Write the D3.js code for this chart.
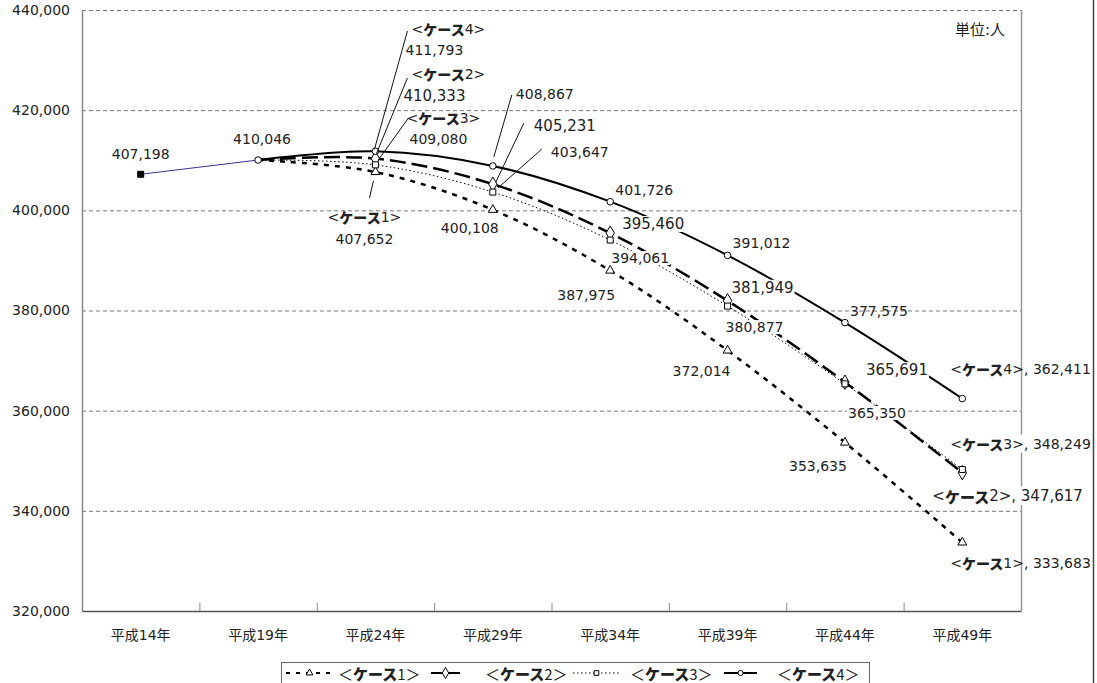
<!DOCTYPE html>
<html>
<head>
<meta charset="utf-8">
<script src="https://cdn.jsdelivr.net/npm/d3@7"></script>
<style>
  body { margin: 0; background: #fff; }
  svg { display: block; font-family: "DejaVu Sans", "Noto Sans CJK JP", sans-serif; }
  .kase { font-family: "Noto Sans CJK JP", sans-serif; font-weight: 900; }
</style>
</head>
<body>
<div id="chart"></div>
<script>
// categories and values
var years = ["平成14年", "平成19年", "平成24年", "平成29年", "平成34年", "平成39年", "平成44年", "平成49年"];
var actual = [407198, 410046, null, null, null, null, null, null];
var case1 = [null, 410046, 407652, 400108, 387975, 372014, 353635, 333683];
var case2 = [null, 410046, 410333, 405231, 395460, 381949, 365691, 347617];
var case3 = [null, 410046, 409080, 403647, 394061, 380877, 365350, 348249];
var case4 = [null, 410046, 411793, 408867, 401726, 391012, 377575, 362411];
var yTicks = [320000, 340000, 360000, 380000, 400000, 420000, 440000];
var caseNames = ["1", "2", "3", "4"];

var svgWidth = 1097, svgHeight = 683;
var margin = {top: 10, left: 82, right: 76, bottom: 72};
var width = svgWidth - margin.left - margin.right;
var height = svgHeight - margin.top - margin.bottom;

var svg = d3.select("#chart").append("svg")
    .attr("width", svgWidth)
    .attr("height", svgHeight);

// outer frame line on the right
svg.append("line")
    .attr("x1", 1093.5).attr("x2", 1093.5)
    .attr("y1", 0).attr("y2", svgHeight)
    .attr("stroke", "#444").attr("stroke-width", 1.5);

var g = svg.append("g").attr("transform", `translate(${margin.left}, ${margin.top})`);

var xScale = d3.scaleBand().domain(years).range([0, width]);
var yScale = d3.scaleLinear().domain([320000, 440000]).range([height, 0]);
var cx = d => xScale(d) + xScale.bandwidth() / 2;

// grid lines
g.append("g").selectAll("line")
    .data(yTicks.slice(1))
    .enter().append("line")
    .attr("x1", 0).attr("x2", width)
    .attr("y1", d => yScale(d) + 0.5).attr("y2", d => yScale(d) + 0.5)
    .attr("stroke", "#777").attr("stroke-dasharray", "4,3");

// right border of plot area
g.append("line")
    .attr("x1", width + 0.5).attr("x2", width + 0.5)
    .attr("y1", 0).attr("y2", height)
    .attr("stroke", "#999").attr("stroke-width", 1.5);

// y axis
var leftAxis = d3.axisLeft(yScale).tickValues(yTicks).tickFormat(d3.format(",")).tickSize(0).tickPadding(12);
var yAxis = g.append("g").call(leftAxis);
yAxis.select(".domain").attr("stroke", "#888").attr("stroke-width", 1.5);
yAxis.selectAll("text").attr("font-size", 14).attr("fill", "#222").attr("font-family", "DejaVu Sans");

// x axis
var bottomAxis = d3.axisBottom(xScale).tickSize(0).tickPadding(19);
var xAxis = g.append("g").attr("transform", `translate(0, ${height})`).call(bottomAxis);
xAxis.select(".domain").attr("stroke", "#555").attr("stroke-width", 1.5);
xAxis.selectAll("text").attr("font-size", 14).attr("fill", "#222").attr("font-family", "DejaVu Sans, Noto Sans CJK JP");

// boundary tick marks pointing up
g.append("g").selectAll("line")
    .data(years.slice(1))
    .enter().append("line")
    .attr("x1", d => xScale(d) + 0.5).attr("x2", d => xScale(d) + 0.5)
    .attr("y1", height - 8).attr("y2", height)
    .attr("stroke", "#888");

// series
var series = [
    {key: "1", values: case1, dash: "5,6", sw: 2.5, marker: "triangle"},
    {key: "2", values: case2, dash: "16,6", sw: 2.5, marker: "diamond"},
    {key: "3", values: case3, dash: "1.5,2.5", sw: 1, marker: "square"},
    {key: "4", values: case4, dash: null, sw: 2, marker: "circle"}
];

var lineGen = d3.line()
    .defined(d => d.v != null)
    .x(d => cx(d.year))
    .y(d => yScale(d.v))
    .curve(d3.curveCardinal.tension(0));

function pts(values) {
    return years.map((y, i) => ({year: y, v: values[i], i: i}));
}

// actual line (blue)
g.append("path")
    .datum(pts(actual))
    .attr("d", lineGen.curve(d3.curveLinear))
    .attr("fill", "none").attr("stroke", "#333399").attr("stroke-width", 1);
lineGen.curve(d3.curveCardinal.tension(0));

series.forEach(s => {
    g.append("path")
        .datum(pts(s.values))
        .attr("d", lineGen)
        .attr("fill", "none")
        .attr("stroke", "#000")
        .attr("stroke-width", s.sw)
        .attr("stroke-dasharray", s.dash);
});

var symbolType = {triangle: d3.symbolTriangle, diamond: d3.symbolDiamond, square: d3.symbolSquare, circle: d3.symbolCircle};
var symbolSize = {triangle: 34, diamond: 60, square: 36, circle: 34};

function drawMarker(sel, type, x, y, fill, scale) {
    sel.append("path")
        .attr("d", d3.symbol().type(symbolType[type]).size(symbolSize[type] * (scale || 1))())
        .attr("transform", `translate(${x}, ${y})`)
        .attr("fill", fill || "#fff")
        .attr("stroke", "#000")
        .attr("stroke-width", 1);
}

series.forEach(s => {
    pts(s.values).forEach(p => {
        if (p.v != null && p.i > 1) drawMarker(g, s.marker, cx(p.year), yScale(p.v));
    });
});
drawMarker(g, "square", cx(years[0]), yScale(actual[0]), "#000");
drawMarker(g, "circle", cx(years[1]), yScale(actual[1]));

// labels
var fmt = d3.format(",");
var labelLayer = g.append("g");

function addLabel(text, x, y, opts) {
    opts = opts || {};
    var t = labelLayer.append("text")
        .attr("x", x).attr("y", y)
        .attr("text-anchor", opts.anchor || "middle")
        .attr("dominant-baseline", "central")
        .attr("font-size", opts.size || 14)
        .attr("fill", "#222");
    if (opts.kase) {
        t.append("tspan").text("<");
        t.append("tspan").attr("class", "kase").text("ケース");
        t.append("tspan").text(opts.kase + ">" + (opts.tail || ""));
    } else {
        t.text(text);
    }
    if (opts.bg) {
        var b = t.node().getBBox();
        labelLayer.insert("rect", function() { return t.node(); })
            .attr("x", b.x - 1).attr("y", b.y + 1)
            .attr("width", b.width + 2).attr("height", b.height - 2)
            .attr("fill", "#fff");
    }
    return t;
}

function leader(x1, y1, x2, y2) {
    labelLayer.append("line")
        .attr("x1", x1).attr("y1", y1).attr("x2", x2).attr("y2", y2)
        .attr("stroke", "#111").attr("stroke-width", 1);
}

// placement for each series: [dx, dy] per point index (label center relative to point)
var place = {
    actual: {0: [0, -20], 1: [4, -21]},
    "4": {3: [52, -72], 4: [34, -12], 5: [34, -12], 6: [34, -12]},
    "2": {3: [72, -58], 4: [43, -9], 5: [35, -13], 6: [52, -12]},
    "3": {3: [87, -40], 4: [30, 18], 5: [27, 21], 6: [32, 29]},
    "1": {3: [-23, 18], 4: [-24, 24], 5: [-26, 21], 6: [-27, 23]}
};
var leaders = {
    "4": {3: [1, -9, 19, -71]},
    "2": {3: [3, -2, 31, -61]},
    "3": {3: [5, -4, 49, -43]}
};
var bigSize = {"2": 15};

actual.forEach((v, i) => {
    if (v == null) return;
    var o = place.actual[i];
    addLabel(fmt(v), cx(years[i]) + o[0], yScale(v) + o[1]);
});

series.forEach(s => {
    var p = place[s.key];
    s.values.forEach((v, i) => {
        if (p[i] == null) return;
        var x = cx(years[i]), y = yScale(v);
        if (leaders[s.key] && leaders[s.key][i]) {
            var l = leaders[s.key][i];
            leader(x + l[0], y + l[1], x + l[2], y + l[3]);
        }
        addLabel(fmt(v), x + p[i][0], y + p[i][1], {size: bigSize[s.key] || 14, bg: s.key === "2" || s.key === "3"});
    });
});

// two-line labels at 平成24年
var i24 = 2, x24 = cx(years[i24]);
leader(x24 - 1, yScale(case4[i24]) - 2, x24 + 32, 21);
addLabel("", x24 + 73, 19, {kase: "4"});
addLabel(fmt(case4[i24]), x24 + 59, 40);
leader(x24 + 1, yScale(case2[i24]) - 5, x24 + 32, 68);
addLabel("", x24 + 73, 64, {kase: "2"});
addLabel(fmt(case2[i24]), x24 + 59, 86, {size: 15});
leader(x24 + 3, yScale(case3[i24]) - 5, x24 + 33, 108);
addLabel("", x24 + 68, 108, {kase: "3"});
addLabel(fmt(case3[i24]), x24 + 63, 129);
leader(x24 - 2, yScale(case1[i24]) + 9, x24 - 6, 188);
addLabel("", x24 - 11, 207, {kase: "1"});
addLabel(fmt(case1[i24]), x24 - 11, 229);

// end labels at 平成49年
var iEnd = 7, xEnd = cx(years[iEnd]);
addLabel("", xEnd - 12, yScale(case4[iEnd]) - 30, {kase: "4", tail: ", " + fmt(case4[iEnd]), anchor: "start"});
addLabel("", xEnd - 12, yScale(case3[iEnd]) - 26, {kase: "3", tail: ", " + fmt(case3[iEnd]), anchor: "start", bg: true});
addLabel("", xEnd - 30, yScale(case2[iEnd]) + 23, {kase: "2", tail: ", " + fmt(case2[iEnd]), anchor: "start", size: 15, bg: true});
addLabel("", xEnd - 12, yScale(case1[iEnd]) + 21, {kase: "1", tail: ", " + fmt(case1[iEnd]), anchor: "start"});

// unit
g.append("text")
    .attr("x", width - 16).attr("y", 20)
    .attr("text-anchor", "end")
    .attr("dominant-baseline", "central")
    .attr("font-size", 15).attr("fill", "#222")
    .text("単位:人");

// legend
var legend = svg.append("g");
legend.append("rect")
    .attr("x", 281.5).attr("y", 662.5)
    .attr("width", 588).attr("height", 30)
    .attr("fill", "#fff").attr("stroke", "#666");
var legendY = 673;
var legendItems = [
    {s: series[0], x0: 286, x1: 333, tx: 338},
    {s: series[1], x0: 431, x1: 460, tx: 485},
    {s: series[2], x0: 573, x1: 620, tx: 630},
    {s: series[3], x0: 724, x1: 757, tx: 777}
];
legendItems.forEach(it => {
    legend.append("line")
        .attr("x1", it.x0).attr("x2", it.x1)
        .attr("y1", legendY).attr("y2", legendY)
        .attr("stroke", "#000")
        .attr("stroke-width", it.s.key === "3" ? 1 : 2)
        .attr("stroke-dasharray", it.s.key === "1" ? "4,6" : (it.s.key === "3" ? "1.5,2.5" : null));
    drawMarker(legend, it.s.marker, (it.x0 + it.x1) / 2, legendY, "#fff", 0.6);
    var t = legend.append("text")
        .attr("x", it.tx).attr("y", legendY)
        .attr("dominant-baseline", "central")
        .attr("font-size", 15).attr("fill", "#222")
        .attr("font-family", "Noto Sans CJK JP");
    t.append("tspan").text("＜");
    t.append("tspan").attr("font-weight", 900).text("ケース");
    t.append("tspan").text(caseNames[+it.s.key - 1] + "＞");
});
</script>
</body>
</html>
